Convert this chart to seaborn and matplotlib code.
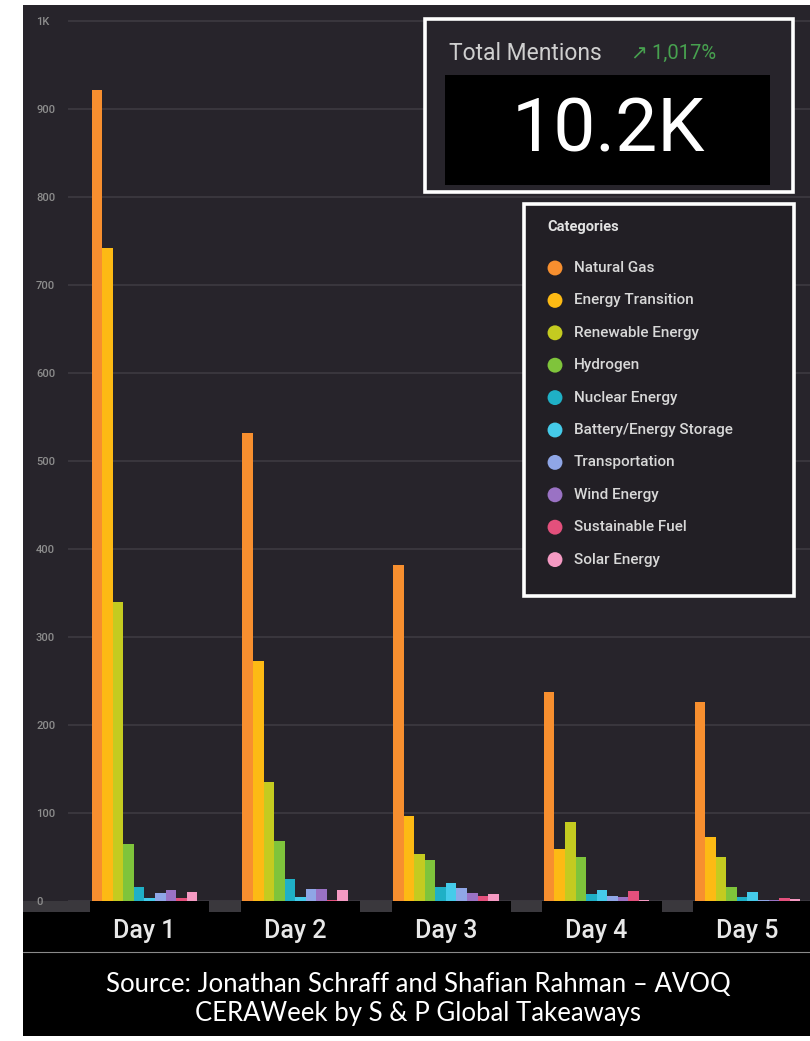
import numpy as np
import pandas as pd
import matplotlib
matplotlib.use("Agg")
import matplotlib.pyplot as plt
import seaborn as sns
from matplotlib.patches import Rectangle
from matplotlib.transforms import blended_transform_factory

sns.set_theme(style="dark")
plt.rcParams["font.family"] = ["Roboto", "DejaVu Sans"]

##########
#  data  #
##########

days = ["Day 1", "Day 2", "Day 3", "Day 4", "Day 5"]
categories = ["Natural Gas", "Energy Transition", "Renewable Energy", "Hydrogen",
              "Nuclear Energy", "Battery/Energy Storage", "Transportation",
              "Wind Energy", "Sustainable Fuel", "Solar Energy"]
colors = ["#f78f2f", "#fdba14", "#c4cb20", "#7fc43b", "#1fb0c6",
          "#45cbea", "#8fa6e6", "#9a72c4", "#e3507c", "#f59ac3"]

natural_gas = [922, 532, 382, 238, 226]
energy_transition = [742, 273, 97, 59, 73]
renewable_energy = [340, 135, 53, 90, 50]
hydrogen = [65, 68, 47, 50, 16]
nuclear_energy = [16, 25, 16, 8, 5]
battery_storage = [3, 5, 20, 12, 10]
transportation = [9, 14, 15, 6, 1]
wind_energy = [13, 14, 9, 4, 1]
sustainable_fuel = [3, 1, 6, 11, 3]
solar_energy = [10, 12, 8, 1, 2]

yticks = [0, 100, 200, 300, 400, 500, 600, 700, 800, 900, 1000]
ytick_labels = ["0", "100", "200", "300", "400", "500", "600", "700", "800", "900", "1K"]

total_label = "Total Mentions"
total_change = "\u2197\u20091,017%"
total_value = "10.2K"
source_lines = ["Source: Jonathan Schraff and Shafian Rahman \u2013 AVOQ",
                "CERAWeek by S & P Global Takeaways"]

series = [natural_gas, energy_transition, renewable_energy, hydrogen, nuclear_energy,
          battery_storage, transportation, wind_energy, sustainable_fuel, solar_energy]
df = pd.DataFrame([(d, c, v[i]) for c, v in zip(categories, series) for i, d in enumerate(days)],
                  columns=["day", "category", "mentions"])

panel = "#27242b"
W, H = 810, 1041

##########
# figure #
##########

fig = plt.figure(figsize=(W / 100, H / 100), dpi=100, facecolor="white")

# background layer (pixel coords)
bg = fig.add_axes([0, 0, 1, 1], zorder=0)
bg.set_xlim(0, W)
bg.set_ylim(H, 0)
bg.axis("off")
bg.add_patch(Rectangle((23, 5), W - 23, 896, fc=panel, ec="none"))
bg.add_patch(Rectangle((23, 901), W - 23, 135, fc="black", ec="none"))
bg.add_patch(Rectangle((23, 901), W - 23, 11, fc="#3a383d", ec="none"))
bg.plot([23, W], [952, 952], color="#8a8a8a", lw=0.8)

# main chart
ax = fig.add_axes([68 / W, (H - 901) / H, (W - 68) / W, 896 / H], zorder=1)
ax.set_facecolor(panel)
sns.barplot(data=df, x="day", y="mentions", hue="category", hue_order=categories,
            palette=colors, width=0.7, saturation=1, errorbar=None, legend=False,
            linewidth=0, ax=ax)
ax.set_xlim(-0.507, 4.415)
ax.set_ylim(0, 896 / 0.88)
ax.set_yticks(yticks)
ax.set_yticklabels(ytick_labels)
ax.tick_params(axis="y", length=0, pad=23, labelsize=8, labelcolor="#8d8d8d")
for lab in ax.get_yticklabels():
    lab.set_horizontalalignment("left")
    lab.set_fontweight("medium")
ax.set_xticks(range(len(days)))
ax.set_xticklabels(days, fontsize=18, color="#e8e8e8", fontweight="medium")
ax.tick_params(axis="x", length=0, pad=13)
ax.set_xlabel("")
ax.set_ylabel("")
ax.yaxis.grid(True, color="#3b3840", lw=1.3)
ax.xaxis.grid(False)
ax.set_axisbelow(True)
for s in ax.spines.values():
    s.set_visible(False)

# black strips under each day group
trans = blended_transform_factory(ax.transData, ax.transAxes)
for i in range(len(days)):
    ax.add_patch(Rectangle((i - 0.36, -12 / 896), 0.79, 12 / 896, transform=trans,
                           fc="black", ec="none", clip_on=False))

# overlay: kpi box, legend, source
ov = fig.add_axes([0, 0, 1, 1], zorder=2)
ov.set_xlim(0, W)
ov.set_ylim(H, 0)
ov.axis("off")
ov.patch.set_alpha(0)

ov.add_patch(Rectangle((425, 19), 368, 173, fc=panel, ec="white", lw=2.6))
ov.add_patch(Rectangle((445, 75), 325, 110, fc="black", ec="none"))
ov.text(449, 53, total_label, fontsize=16.5, color="#cfcfcf", ha="left", va="center")
ov.text(631, 53, total_change, fontsize=14.5, color="#47a14f", ha="left", va="center")
ov.text(608, 131, total_value, fontsize=54, color="white", ha="center", va="center")

ov.add_patch(Rectangle((524, 204), 270, 392, fc="#221f25", ec="white", lw=2.6))
ov.text(547, 227, "Categories", fontsize=10.5, fontweight="bold", color="#e2e2e2",
        ha="left", va="center")
ys = 268 + 32.4 * np.arange(len(categories))
ov.scatter([555] * len(categories), ys, s=115, c=colors, linewidths=0)
for y, c in zip(ys, categories):
    ov.text(574, y, c, fontsize=11, fontweight="medium", color="#d8d8d8",
            ha="left", va="center")

for y, line in zip([985, 1013], source_lines):
    ov.text(418, y, line, fontsize=18.5, color="white", ha="center", va="center",
            family=["Lato", "DejaVu Sans"])

fig.savefig("out.png", dpi=100, facecolor="white")
